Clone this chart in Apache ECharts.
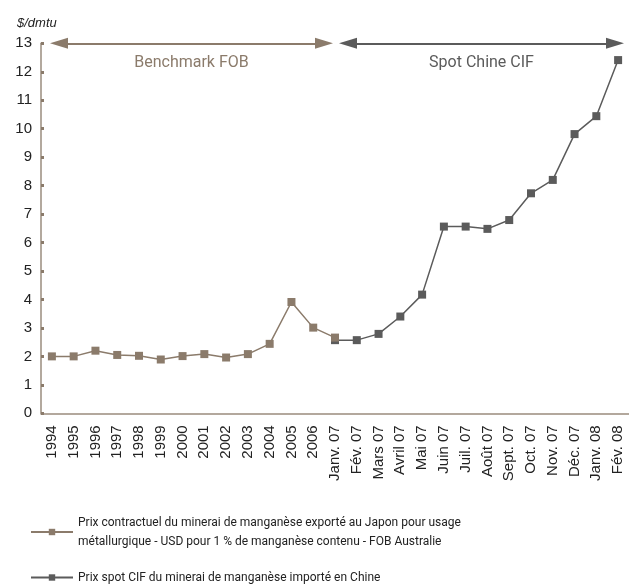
<!DOCTYPE html>
<html>
<head>
<meta charset="utf-8">
<script src="https://cdn.jsdelivr.net/npm/echarts@6/dist/echarts.min.js"></script>
<style>
  html, body { margin: 0; padding: 0; background: #fff; }
  #chart { width: 629px; height: 586px; }
</style>
</head>
<body>
<div id="chart"></div>
<script>
  // catégories : années puis mois
  var categories = ['1994', '1995', '1996', '1997', '1998', '1999', '2000', '2001', '2002', '2003', '2004', '2005', '2006',
    'Janv. 07', 'Fév. 07', 'Mars 07', 'Avril 07', 'Mai 07', 'Juin 07', 'Juil. 07', 'Août 07', 'Sept. 07', 'Oct. 07',
    'Nov. 07', 'Déc. 07', 'Janv. 08', 'Fév. 08'];
  // prix FOB Australie (1994 -> Janv. 07)
  var fobValues = [2.0, 2.0, 2.2, 2.05, 2.02, 1.89, 2.01, 2.08, 1.96, 2.08, 2.44, 3.91, 3.01, 2.66];
  // prix spot CIF Chine (Janv. 07 -> Fév. 08)
  var cifValues = [2.57, 2.57, 2.79, 3.40, 4.17, 6.56, 6.56, 6.48, 6.79, 7.73, 8.20, 9.81, 10.44, 12.41];
  var yTicks = [0, 1, 2, 3, 4, 5, 6, 7, 8, 9, 10, 11, 12, 13];

  var fobName = 'Prix contractuel du minerai de manganèse exporté au Japon pour usage\nmétallurgique - USD pour 1 % de manganèse contenu - FOB Australie';
  var cifName = 'Prix spot CIF du minerai de manganèse importé en Chine';

  var brown = '#8b7b6b';
  var dark = '#5b5b5b';
  var narrow = 'Roboto';

  // on complète avec des vides pour caler les séries sur l'axe
  var fobData = fobValues.concat(new Array(categories.length - fobValues.length).fill(null));
  var cifData = new Array(categories.length - cifValues.length).fill(null).concat(cifValues);

  var myChart = echarts.init(document.getElementById('chart'));
  myChart.setOption({
    animation: false,
    textStyle: { fontFamily: 'Liberation Sans' },
    title: {
      text: '$/dmtu',
      left: 12,
      top: 12,
      textStyle: { fontSize: 13, fontStyle: 'italic', fontWeight: 'normal', color: '#222', fontFamily: 'Liberation Sans' }
    },
    legend: {
      data: [fobName, cifName],
      orient: 'vertical',
      left: 30,
      top: 513,
      padding: 0,
      itemWidth: 42,
      itemHeight: 8,
      itemGap: 17,
      textStyle: { fontFamily: narrow, fontSize: 12, lineHeight: 19, color: '#222' }
    },
    grid: { left: 41, top: 43.3, width: 591, height: 370 },
    xAxis: {
      type: 'category',
      data: categories,
      boundaryGap: true,
      axisLine: { lineStyle: { color: '#9a8c7e', width: 1.5 } },
      axisTick: { show: false },
      axisLabel: { rotate: 90, interval: 0, fontSize: 15, color: '#222', margin: 12 }
    },
    yAxis: {
      type: 'value',
      min: yTicks[0],
      max: yTicks[yTicks.length - 1],
      interval: 1,
      splitLine: { show: false },
      axisLine: { show: true, lineStyle: { color: '#9a8c7e', width: 1.5 } },
      axisTick: { show: true, inside: true, length: 3, lineStyle: { color: brown, width: 3 } },
      axisLabel: { fontSize: 15, color: '#222', margin: 9 }
    },
    series: [
      {
        name: cifName,
        type: 'line',
        data: cifData,
        symbol: 'rect',
        symbolSize: 8,
        itemStyle: { color: dark },
        lineStyle: { color: dark, width: 1.5 },
        markLine: {
          silent: true,
          symbol: ['triangle', 'triangle'],
          symbolSize: [11, 18],
          lineStyle: { color: dark, width: 2, type: 'solid' },
          label: {
            show: true,
            position: 'insideMiddleBottom',
            formatter: 'Spot Chine CIF',
            fontFamily: narrow,
            fontSize: 16,
            color: dark,
            distance: 12
          },
          data: [[{ x: 348, y: 43.3 }, { x: 615, y: 43.3 }]]
        }
      },
      {
        name: fobName,
        type: 'line',
        data: fobData,
        symbol: 'rect',
        symbolSize: 8,
        itemStyle: { color: brown },
        lineStyle: { color: brown, width: 1.5 },
        markLine: {
          silent: true,
          symbol: ['triangle', 'triangle'],
          symbolSize: [11, 18],
          lineStyle: { color: brown, width: 2, type: 'solid' },
          label: {
            show: true,
            position: 'insideMiddleBottom',
            formatter: 'Benchmark FOB',
            fontFamily: narrow,
            fontSize: 16,
            color: brown,
            distance: 12
          },
          data: [[{ x: 59, y: 43.3 }, { x: 324, y: 43.3 }]]
        }
      }
    ]
  });
</script>
</body>
</html>
